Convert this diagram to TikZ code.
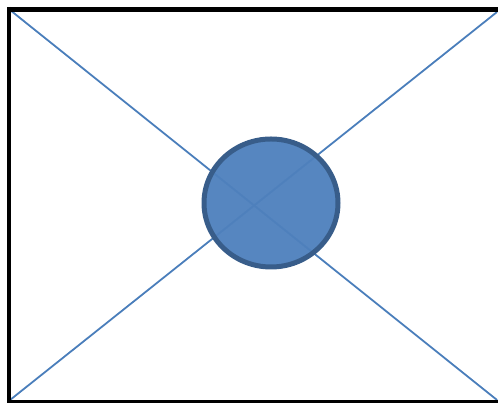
\documentclass[tikz,border=0pt]{standalone}
\usepackage{tikz}
\usetikzlibrary{shapes.geometric}

\definecolor{diskfill}{HTML}{4F81BD}
\definecolor{diskedge}{HTML}{385D8A}
\definecolor{diagline}{HTML}{4A7EBB}

\tikzset{
  frame/.style={draw=black,line width=4.5pt},
  diag/.style={draw=diagline,line width=1.8pt},
  disk/.style={ellipse,draw=diskedge,fill=diskfill,fill opacity=0.96,
    line width=5pt,inner sep=0pt,minimum width=134pt,minimum height=128pt}
}

\begin{document}
\begin{tikzpicture}[x=1pt,y=1pt]
  \useasboundingbox (0,0) rectangle (498,403);
  % corners of the frame
  \coordinate (TL) at (10,393);
  \coordinate (BL) at (10,3);
  \coordinate (TR) at (497,391);
  \coordinate (BR) at (497,3);
  % diagonals
  \draw[diag] (TL) -- (BR);
  \draw[diag] (BL) -- (TR);
  % disk in the middle
  \node[disk] (D) at (271,200) {};
  % frame: top, left and bottom edges
  \draw[frame] (7,393.5) -- (498,393.5);
  \draw[frame] (9,396) -- (9,0);
  \draw[frame,line width=3pt] (7,1.5) -- (498,1.5);
\end{tikzpicture}
\end{document}
